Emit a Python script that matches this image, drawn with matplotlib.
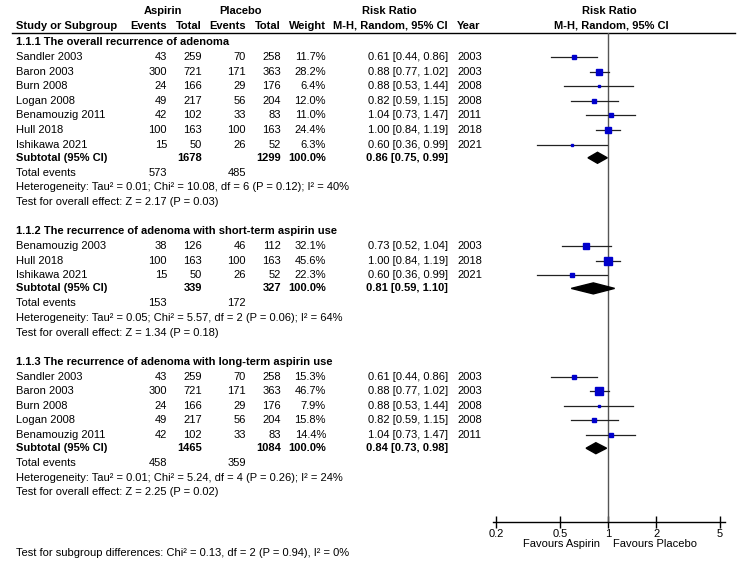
#!/usr/bin/env python3
# -*- coding: utf-8 -*-

"""
Forest plot: aspirin vs placebo, recurrence of adenoma (RevMan style).
"""

import matplotlib
matplotlib.use("Agg")
import matplotlib.pyplot as plt
from matplotlib.patches import Polygon

plt.rcParams['font.family'] = ['Liberation Sans', 'DejaVu Sans']

# DATA ########################################################################

group_titles = ["1.1.1 The overall recurrence of adenoma",
                "1.1.2 The recurrence of adenoma with short-term aspirin use",
                "1.1.3 The recurrence of adenoma with long-term aspirin use"]

g1_names = ["Sandler 2003", "Baron 2003", "Burn 2008", "Logan 2008",
            "Benamouzig 2011", "Hull 2018", "Ishikawa 2021"]
g1_asp_events = [43, 300, 24, 49, 42, 100, 15]
g1_asp_total = [259, 721, 166, 217, 102, 163, 50]
g1_pla_events = [70, 171, 29, 56, 33, 100, 26]
g1_pla_total = [258, 363, 176, 204, 83, 163, 52]
g1_weight = [11.7, 28.2, 6.4, 12.0, 11.0, 24.4, 6.3]
g1_rr = [0.61, 0.88, 0.88, 0.82, 1.04, 1.00, 0.60]
g1_lo = [0.44, 0.77, 0.53, 0.59, 0.73, 0.84, 0.36]
g1_hi = [0.86, 1.02, 1.44, 1.15, 1.47, 1.19, 0.99]
g1_year = [2003, 2003, 2008, 2008, 2011, 2018, 2021]

g2_names = ["Benamouzig 2003", "Hull 2018", "Ishikawa 2021"]
g2_asp_events = [38, 100, 15]
g2_asp_total = [126, 163, 50]
g2_pla_events = [46, 100, 26]
g2_pla_total = [112, 163, 52]
g2_weight = [32.1, 45.6, 22.3]
g2_rr = [0.73, 1.00, 0.60]
g2_lo = [0.52, 0.84, 0.36]
g2_hi = [1.04, 1.19, 0.99]
g2_year = [2003, 2018, 2021]

g3_names = ["Sandler 2003", "Baron 2003", "Burn 2008", "Logan 2008",
            "Benamouzig 2011"]
g3_asp_events = [43, 300, 24, 49, 42]
g3_asp_total = [259, 721, 166, 217, 102]
g3_pla_events = [70, 171, 29, 56, 33]
g3_pla_total = [258, 363, 176, 204, 83]
g3_weight = [15.3, 46.7, 7.9, 15.8, 14.4]
g3_rr = [0.61, 0.88, 0.88, 0.82, 1.04]
g3_lo = [0.44, 0.77, 0.53, 0.59, 0.73]
g3_hi = [0.86, 1.02, 1.44, 1.15, 1.47]
g3_year = [2003, 2003, 2008, 2008, 2011]

sub_asp_total = [1678, 339, 1465]
sub_pla_total = [1299, 327, 1084]
sub_rr = [0.86, 0.81, 0.84]
sub_lo = [0.75, 0.59, 0.73]
sub_hi = [0.99, 1.10, 0.98]
sub_asp_events = [573, 153, 458]
sub_pla_events = [485, 172, 359]
heterogeneity = ["Heterogeneity: Tau\u00b2 = 0.01; Chi\u00b2 = 10.08, df = 6 (P = 0.12); I\u00b2 = 40%",
                 "Heterogeneity: Tau\u00b2 = 0.05; Chi\u00b2 = 5.57, df = 2 (P = 0.06); I\u00b2 = 64%",
                 "Heterogeneity: Tau\u00b2 = 0.01; Chi\u00b2 = 5.24, df = 4 (P = 0.26); I\u00b2 = 24%"]
overall_effect = ["Test for overall effect: Z = 2.17 (P = 0.03)",
                  "Test for overall effect: Z = 1.34 (P = 0.18)",
                  "Test for overall effect: Z = 2.25 (P = 0.02)"]
subgroup_diff = "Test for subgroup differences: Chi\u00b2 = 0.13, df = 2 (P = 0.94), I\u00b2 = 0%"

x_ticks = [0.2, 0.5, 1, 2, 5]
x_tick_labels = ["0.2", "0.5", "1", "2", "5"]

groups = [
    (g1_names, g1_asp_events, g1_asp_total, g1_pla_events, g1_pla_total,
     g1_weight, g1_rr, g1_lo, g1_hi, g1_year),
    (g2_names, g2_asp_events, g2_asp_total, g2_pla_events, g2_pla_total,
     g2_weight, g2_rr, g2_lo, g2_hi, g2_year),
    (g3_names, g3_asp_events, g3_asp_total, g3_pla_events, g3_pla_total,
     g3_weight, g3_rr, g3_lo, g3_hi, g3_year),
]

# LAYOUT ######################################################################

W, H = 745, 568
FS = 8
BLUE = '#0000CC'

fig = plt.figure(figsize=(W / 100, H / 100), dpi=100)
fig.patch.set_facecolor('white')

# text axes in pixel coordinates
tx = fig.add_axes([0, 0, 1, 1])
tx.set_xlim(0, W)
tx.set_ylim(H, 0)
tx.axis('off')

# forest axes (log scale); y in pixel coordinates as well
fx_left, fx_right = 493, 725
fy_top, fy_bot = 33, 522
fx = fig.add_axes([fx_left / W, 1 - fy_bot / H,
                   (fx_right - fx_left) / W, (fy_bot - fy_top) / H])
fx.set_xscale('log')
fx.set_xlim(0.1916, 5.372)
fx.set_ylim(fy_bot, fy_top)
fx.patch.set_alpha(0)
for s in ['top', 'left', 'right']:
    fx.spines[s].set_visible(False)
fx.spines['bottom'].set_linewidth(1.0)
fx.set_yticks([])
fx.set_xticks(x_ticks)
fx.set_xticklabels(x_tick_labels)
fx.minorticks_off()
fx.tick_params(axis='x', direction='inout', length=8, width=1.0,
               labelsize=FS, pad=1)
fx.axvline(1, color='#555555', lw=1.0)

# column anchors (right edges)
c_name = 16
c_ae, c_at, c_pe, c_pt, c_w = 167, 202, 246, 281, 326
c_rr, c_year = 448, 457


def t(x, y, s, ha='left', bold=False, fs=FS):
    tx.text(x, y, s, ha=ha, va='center', fontsize=fs,
            fontweight='bold' if bold else 'normal', color='black')


# HEADER ######################################################################

t(163, 11, "Aspirin", ha='center', bold=True)
t(241, 11, "Placebo", ha='center', bold=True)
t(389, 11, "Risk Ratio", ha='center', bold=True)
t(609, 11, "Risk Ratio", ha='center', bold=True)
t(c_name, 26, "Study or Subgroup", bold=True)
t(c_ae, 26, "Events", ha='right', bold=True)
t(c_at, 26, "Total", ha='right', bold=True)
t(c_pe, 26, "Events", ha='right', bold=True)
t(c_pt, 26, "Total", ha='right', bold=True)
t(c_w, 26, "Weight", ha='right', bold=True)
t(c_rr, 26, "M-H, Random, 95% CI", ha='right', bold=True)
t(c_year, 26, "Year", bold=True)
t(611, 26, "M-H, Random, 95% CI", ha='center', bold=True)
tx.plot([12, 735], [33, 33], color='black', lw=1.0)

# BODY ########################################################################

y = 42
for gi, grp in enumerate(groups):
    names, ae, at, pe, pt, wt, rr, lo, hi, yr = grp
    t(c_name, y, group_titles[gi], bold=True)
    y += 15
    for i in range(len(names)):
        t(c_name, y, names[i])
        t(c_ae, y, str(ae[i]), ha='right')
        t(c_at, y, str(at[i]), ha='right')
        t(c_pe, y, str(pe[i]), ha='right')
        t(c_pt, y, str(pt[i]), ha='right')
        t(c_w, y, "%.1f%%" % wt[i], ha='right')
        t(c_rr, y, "%.2f [%.2f, %.2f]" % (rr[i], lo[i], hi[i]), ha='right')
        t(c_year, y, str(yr[i]))
        fx.plot([lo[i], hi[i]], [y, y], color='#222222', lw=0.9, zorder=2)
        side = (1.5 + 0.15 * wt[i]) * 0.72
        fx.plot([rr[i]], [y], marker='s', ms=side, color=BLUE,
                mec=BLUE, ls='none', zorder=3)
        y += 14.6
    y -= 1.4
    t(c_name, y, "Subtotal (95% CI)", bold=True)
    t(c_at, y, str(sub_asp_total[gi]), ha='right', bold=True)
    t(c_pt, y, str(sub_pla_total[gi]), ha='right', bold=True)
    t(c_w, y, "100.0%", ha='right', bold=True)
    t(c_rr, y, "%.2f [%.2f, %.2f]" % (sub_rr[gi], sub_lo[gi], sub_hi[gi]),
      ha='right', bold=True)
    fx.add_patch(Polygon([(sub_lo[gi], y), (sub_rr[gi], y - 5.5),
                          (sub_hi[gi], y), (sub_rr[gi], y + 5.5)],
                         closed=True, color='black', zorder=3))
    y += 15
    t(c_name, y, "Total events")
    t(c_ae, y, str(sub_asp_events[gi]), ha='right')
    t(c_pe, y, str(sub_pla_events[gi]), ha='right')
    y += 14.6
    t(c_name, y, heterogeneity[gi])
    y += 14.6
    t(c_name, y, overall_effect[gi])
    y += 29

# FOOTER ######################################################################

t(600, 544, "Favours Aspirin", ha='right')
t(613, 544, "Favours Placebo")
t(c_name, 553, subgroup_diff)

plt.savefig("out.png", dpi=100, facecolor='white')
